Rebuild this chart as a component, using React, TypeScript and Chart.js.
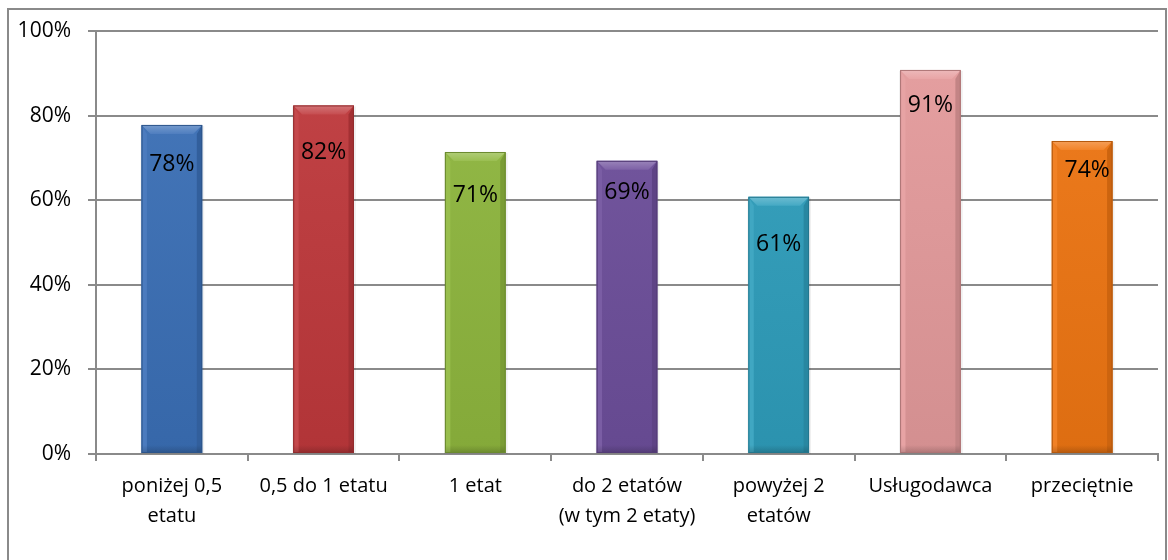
import React, { useEffect, useRef } from "react";
import { Chart, registerables } from "chart.js";

Chart.register(...registerables);

const categories: (string | string[])[] = [
  ["poniżej 0,5", "etatu"],
  "0,5 do 1 etatu",
  "1 etat",
  ["do 2 etatów", "(w tym 2 etaty)"],
  ["powyżej 2", "etatów"],
  "Usługodawca",
  "przeciętnie",
];
const values = [0.778, 0.824, 0.714, 0.693, 0.608, 0.908, 0.74];
const valueLabels = ["78%", "82%", "71%", "69%", "61%", "91%", "74%"];
const yTicks = [0, 0.2, 0.4, 0.6, 0.8, 1.0];

const barColors = ["#3b70b8", "#c0393c", "#8fb83e", "#6e4f9c", "#2f9fbd", "#e59b9c", "#f07612"];
const labelOffsets = [40, 47, 43, 32, 48, 36, 29];
const labelShiftX = [0, 0, 0, 0, 0, 0, 5];

const FONT = "'Open Sans', 'Noto Sans', sans-serif";

function shade(hex: string, amt: number): string {
  const n = parseInt(hex.slice(1), 16);
  let r = (n >> 16) & 255, g = (n >> 8) & 255, b = n & 255;
  if (amt >= 0) {
    r = r + (255 - r) * amt; g = g + (255 - g) * amt; b = b + (255 - b) * amt;
  } else {
    r = r * (1 + amt); g = g * (1 + amt); b = b * (1 + amt);
  }
  return `rgb(${Math.round(r)},${Math.round(g)},${Math.round(b)})`;
}

const frameAndBevel = {
  id: "frameAndBevel",
  beforeDraw(chart: any) {
    const ctx = chart.ctx;
    ctx.save();
    ctx.fillStyle = "#ffffff";
    ctx.fillRect(0, 0, chart.width, chart.height);
    ctx.strokeStyle = "#8a8a8a";
    ctx.lineWidth = 2;
    ctx.strokeRect(8, 9, 1158, 560);
    ctx.restore();
  },
  beforeDatasetsDraw(chart: any) {
    const ctx = chart.ctx;
    const meta = chart.getDatasetMeta(0);
    ctx.save();
    meta.data.forEach((bar: any) => {
      const w = bar.width;
      const x0 = bar.x - w / 2;
      ctx.fillStyle = "rgba(0,0,0,0.06)";
      ctx.fillRect(x0 - 1, bar.y + 1, w + 3, bar.base - bar.y);
    });
    ctx.restore();
  },
  afterDatasetsDraw(chart: any) {
    const ctx = chart.ctx;
    const meta = chart.getDatasetMeta(0);
    ctx.save();
    meta.data.forEach((bar: any, i: number) => {
      const w = bar.width;
      const x0 = bar.x - w / 2;
      const x1 = bar.x + w / 2;
      const top = bar.y;
      const bot = bar.base;
      const c = barColors[i];
      const bev = 9;
      // top bevel
      ctx.beginPath();
      ctx.moveTo(x0, top);
      ctx.lineTo(x1, top);
      ctx.lineTo(x1 - bev, top + bev);
      ctx.lineTo(x0 + bev, top + bev);
      ctx.closePath();
      const tg = ctx.createLinearGradient(0, top, 0, top + bev);
      tg.addColorStop(0, shade(c, 0.3));
      tg.addColorStop(1, shade(c, 0.1));
      ctx.fillStyle = tg;
      ctx.fill();
      // left bevel
      ctx.beginPath();
      ctx.moveTo(x0, top);
      ctx.lineTo(x0 + bev * 0.6, top + bev);
      ctx.lineTo(x0 + bev * 0.6, bot);
      ctx.lineTo(x0, bot);
      ctx.closePath();
      ctx.fillStyle = shade(c, 0.08);
      ctx.fill();
      // right bevel
      ctx.beginPath();
      ctx.moveTo(x1, top);
      ctx.lineTo(x1 - bev * 0.6, top + bev);
      ctx.lineTo(x1 - bev * 0.6, bot);
      ctx.lineTo(x1, bot);
      ctx.closePath();
      ctx.fillStyle = shade(c, -0.15);
      ctx.fill();
      // bottom darker band
      const bg = ctx.createLinearGradient(0, bot - 8, 0, bot);
      bg.addColorStop(0, "rgba(0,0,0,0)");
      bg.addColorStop(1, "rgba(0,0,0,0.18)");
      ctx.fillStyle = bg;
      ctx.fillRect(x0, bot - 8, w, 8);
      // outline
      ctx.strokeStyle = shade(c, -0.25);
      ctx.lineWidth = 1;
      ctx.strokeRect(x0 + 0.5, top + 0.5, w - 1, bot - top - 1);
      // label
      ctx.fillStyle = "#000000";
      ctx.font = `23px ${FONT}`;
      ctx.textAlign = "center";
      ctx.textBaseline = "middle";
      ctx.fillText(valueLabels[i], bar.x + labelShiftX[i], top + labelOffsets[i]);
    });
    ctx.restore();
  },
};

export default function App() {
  const ref = useRef<HTMLCanvasElement>(null);
  useEffect(() => {
    document.body.style.margin = "0";
    const canvas = ref.current!;
    const ctx = canvas.getContext("2d")!;
    const fills = barColors.map((c) => {
      const g = ctx.createLinearGradient(0, 0, 0, 460);
      g.addColorStop(0, shade(c, 0.06));
      g.addColorStop(1, shade(c, -0.08));
      return g;
    });
    const chart = new Chart(canvas, {
      type: "bar",
      data: {
        labels: categories,
        datasets: [
          {
            data: values,
            backgroundColor: fills,
            borderWidth: 0,
            barPercentage: 0.4,
            categoryPercentage: 1,
          },
        ],
      },
      options: {
        animation: false,
        responsive: false,
        maintainAspectRatio: false,
        layout: { padding: { top: 31, right: 10, left: 0, bottom: 0 } },
        plugins: { legend: { display: false }, tooltip: { enabled: false } },
        scales: {
          x: {
            offset: true,
            grid: {
              display: true,
              offset: true,
              drawOnChartArea: false,
              drawTicks: true,
              tickLength: 7,
              color: "#8a8a8a",
              lineWidth: 2,
            },
            border: { display: true, color: "#8a8a8a", width: 2 },
            ticks: {
              color: "#000000",
              font: { family: FONT, size: 20, lineHeight: 1.5 },
              padding: 10,
              maxRotation: 0,
              autoSkip: false,
            },
            afterFit: (s: any) => {
              s.height = 106;
            },
          },
          y: {
            min: 0,
            max: 1,
            afterBuildTicks: (s: any) => {
              s.ticks = yTicks.map((v) => ({ value: v }));
            },
            grid: {
              color: "#8a8a8a",
              lineWidth: 2,
              tickLength: 8,
            },
            border: { display: true, color: "#8a8a8a", width: 2 },
            ticks: {
              color: "#000000",
              font: { family: FONT, size: 21 },
              padding: 17,
              callback: (v: any) => Math.round(Number(v) * 100) + "%",
            },
            afterFit: (s: any) => {
              s.width = 96;
            },
          },
        },
      },
      plugins: [frameAndBevel],
    });
    return () => chart.destroy();
  }, []);
  return (
    <div style={{ width: 1168, height: 560, position: "relative" }}>
      <canvas ref={ref} width={1168} height={560} style={{ display: "block" }} />
    </div>
  );
}
